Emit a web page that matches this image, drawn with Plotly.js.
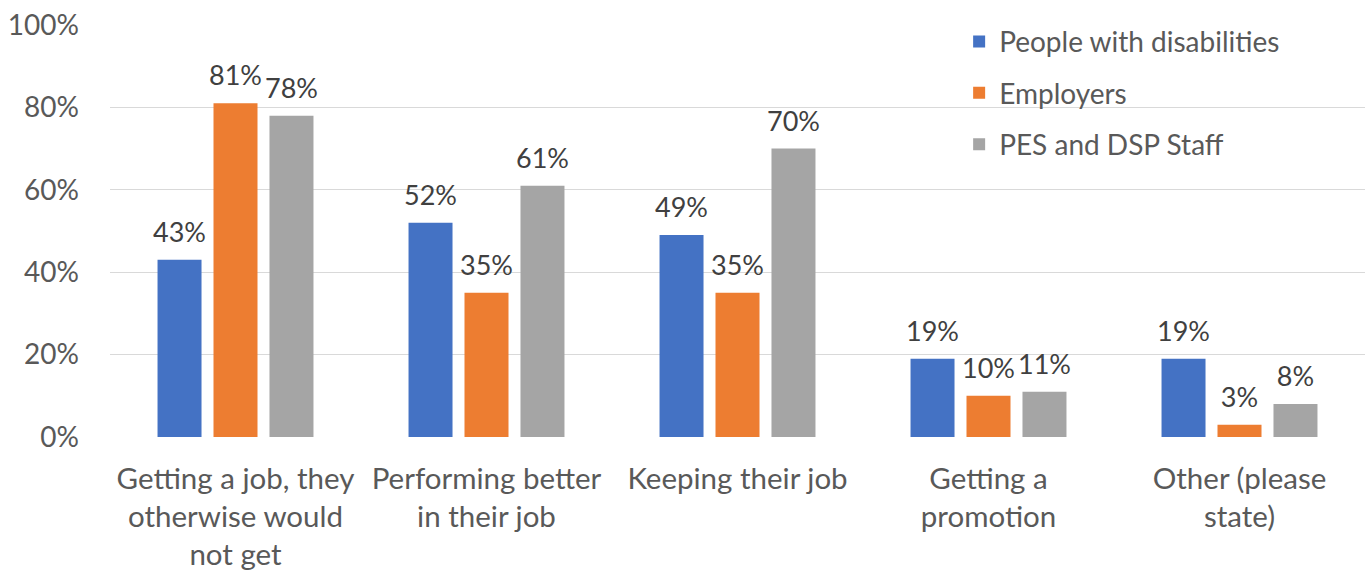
<!DOCTYPE html>
<html>
<head>
<meta charset="utf-8">
<script src="https://cdn.plot.ly/plotly-3.0.1.min.js"></script>
<style>html,body{margin:0;padding:0;background:#fff;}#chart{width:1368px;height:570px;}</style>
</head>
<body>
<div id="chart"></div>
<script>
const categories = [
  "Getting a job, they<br>otherwise would<br>not get",
  "Performing better<br>in their job",
  "Keeping their job",
  "Getting a<br>promotion",
  "Other (please<br>state)"
];
const seriesNames = ["People with disabilities", "Employers", "PES and DSP Staff"];
const peopleWithDisabilities = [43, 52, 49, 19, 19];
const employers = [81, 35, 35, 10, 3];
const pesDspStaff = [78, 61, 70, 11, 8];
const colors = ["#4472C4", "#ED7D31", "#A5A5A5"];
const yTicks = [0, 20, 40, 60, 80, 100];

const FONT = "Lato, 'Open Sans', sans-serif";
const allSeries = [peopleWithDisabilities, employers, pesDspStaff];
const traces = allSeries.map((vals, i) => ({
  type: "bar",
  name: seriesNames[i],
  x: categories,
  y: vals,
  marker: {color: colors[i]},
  text: vals.map(v => "<span style='font-size:27px'>" + v + "%</span><br>\u00A0"),
  textposition: "outside",
  constraintext: "none",
  cliponaxis: false,
  textfont: {family: FONT, size: 10, color: "#404040"},
  legendgroup: "g" + i,
  hoverinfo: "skip"
}));

const layout = {
  width: 1368, height: 570,
  margin: {l: 110, r: 3, t: 25, b: 133},
  paper_bgcolor: "#fff", plot_bgcolor: "#fff",
  barmode: "group",
  bargap: 0.331,
  bargroupgap: 0.214,
  font: {family: FONT, size: 28, color: "#595959"},
  xaxis: {
    type: "category",
    showgrid: false, showline: false, zeroline: false,
    ticks: "", tickfont: {family: FONT, size: 29.5, color: "#595959"},
    ticklabelstandoff: 21
  },
  yaxis: {
    range: [0, 100],
    tickvals: yTicks,
    ticktext: yTicks.map(v => v + "%"),
    showgrid: true, gridcolor: "#D9D9D9", gridwidth: 1.3,
    zeroline: false, showline: false, ticks: "",
    tickfont: {family: FONT, size: 28, color: "#595959"},
    ticklabelstandoff: 30
  },
  showlegend: true,
  legend: {
    x: 0.6766, y: 1.02, xanchor: "left", yanchor: "top",
    bgcolor: "rgba(0,0,0,0)",
    font: {family: FONT, size: 28, color: "#595959"},
    tracegroupgap: 12,
    traceorder: "grouped"
  }
};

Plotly.newPlot("chart", traces, layout, {staticPlot: true});
</script>
</body>
</html>
